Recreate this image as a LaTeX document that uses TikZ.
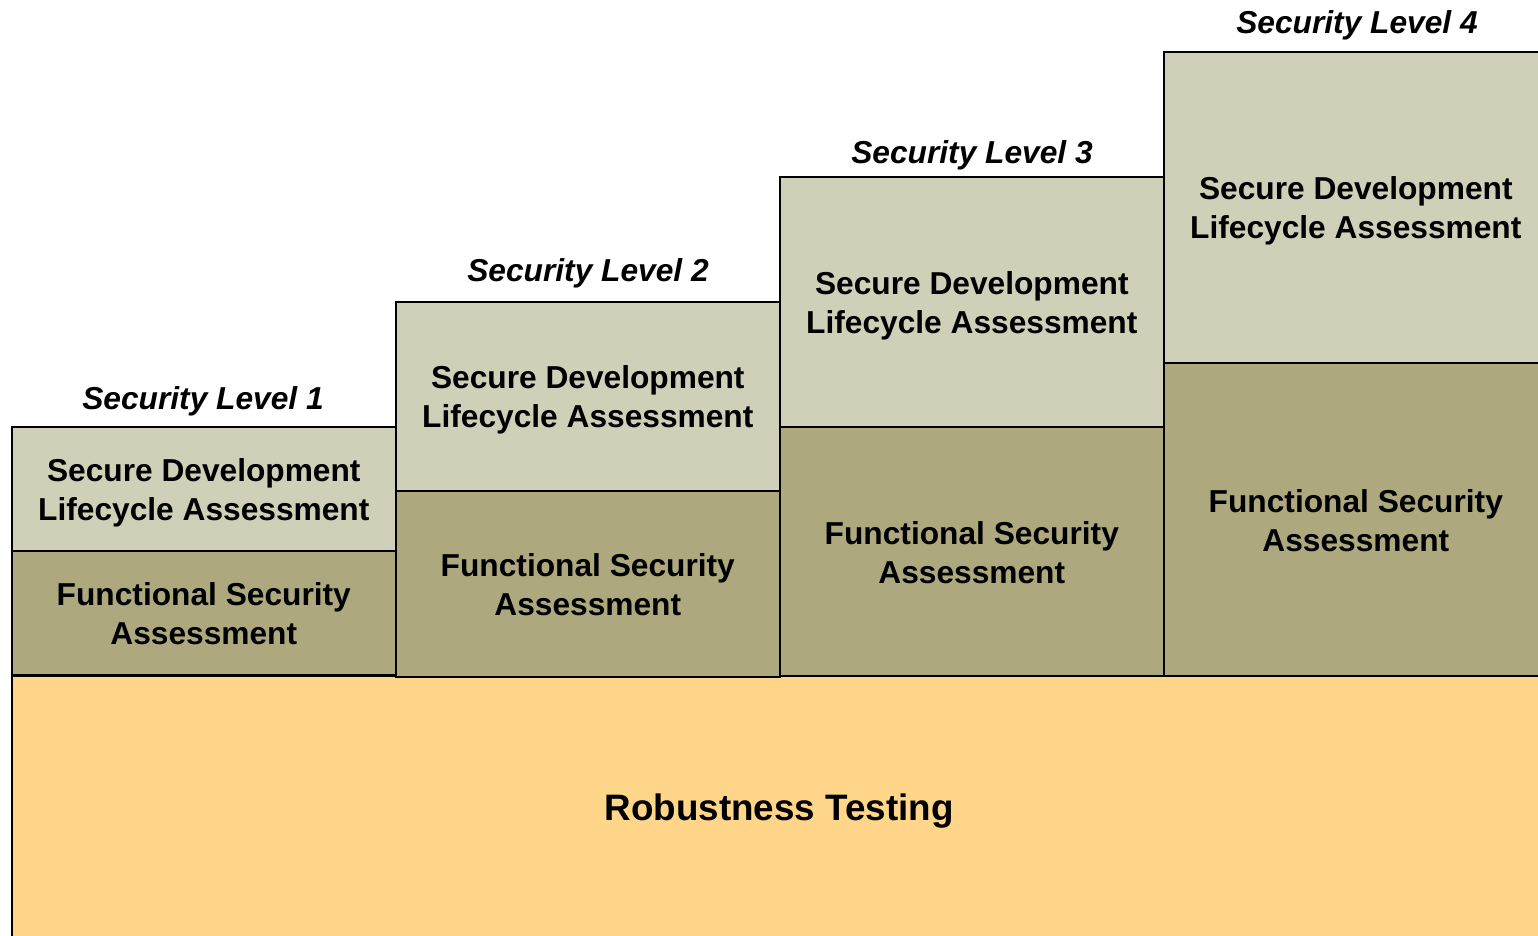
\documentclass[tikz,border=0pt]{standalone}
\usepackage{fontspec}
\setmainfont{Liberation Sans}
\definecolor{lightbox}{RGB}{208,207,184}
\definecolor{darkbox}{RGB}{173,168,126}
\definecolor{robust}{RGB}{254,213,137}
\begin{document}
\begin{tikzpicture}[x=1pt,y=1pt,
  blk/.style={draw=black,line width=1.6pt,inner sep=0pt,anchor=north west,minimum width=384pt},
  sdla/.style={blk,fill=lightbox},
  fsa/.style={blk,fill=darkbox},
  txt/.style={inner sep=0pt,align=center,yshift=-4pt,
    font=\fontsize{31.7}{39}\selectfont\bfseries},
  ftxt/.style={txt,yshift=3pt},
  lvl/.style={font=\fontsize{31.7}{39}\selectfont\bfseries\itshape,inner sep=0pt,yshift=-3pt}]
\useasboundingbox (0,0) rectangle (1538,935);
\clip (0,0) rectangle (1538,935);
% robustness
\node[blk,fill=robust,minimum width=1536pt,minimum height=265pt] (rob) at (11,260) {};
\node[txt,font=\fontsize{36.8}{44}\selectfont\bfseries] (robt) at (779,128) {Robustness Testing};
% column 1
\node[fsa,minimum height=124pt] (f1) at (11,385) {};
\node[sdla,minimum height=124pt] (s1) at (11,509) {};
% column 2
\node[fsa,minimum height=186pt] (f2) at (395,445) {};
\node[sdla,minimum height=189pt] (s2) at (395,634) {};
% column 3
\node[fsa,minimum height=249pt] (f3) at (779,509) {};
\node[sdla,minimum height=250pt] (s3) at (779,759) {};
% column 4
\node[fsa,minimum height=313pt] (f4) at (1163,573) {};
\node[sdla,minimum height=311pt] (s4) at (1163,884) {};
% box texts
\foreach \i in {1,2,3,4}{
  \node[ftxt] (ft\i) at (f\i.center) {Functional Security\\Assessment};
  \node[txt] (st\i) at (s\i.center) {Secure Development\\Lifecycle Assessment};
}
% level labels
\node[lvl] (l1) at (203,537) {Security Level 1};
\node[lvl] (l2) at (588,665) {Security Level 2};
\node[lvl] (l3) at (972,783) {Security Level 3};
\node[lvl] (l4) at (1357,913) {Security Level 4};
\end{tikzpicture}
\end{document}
